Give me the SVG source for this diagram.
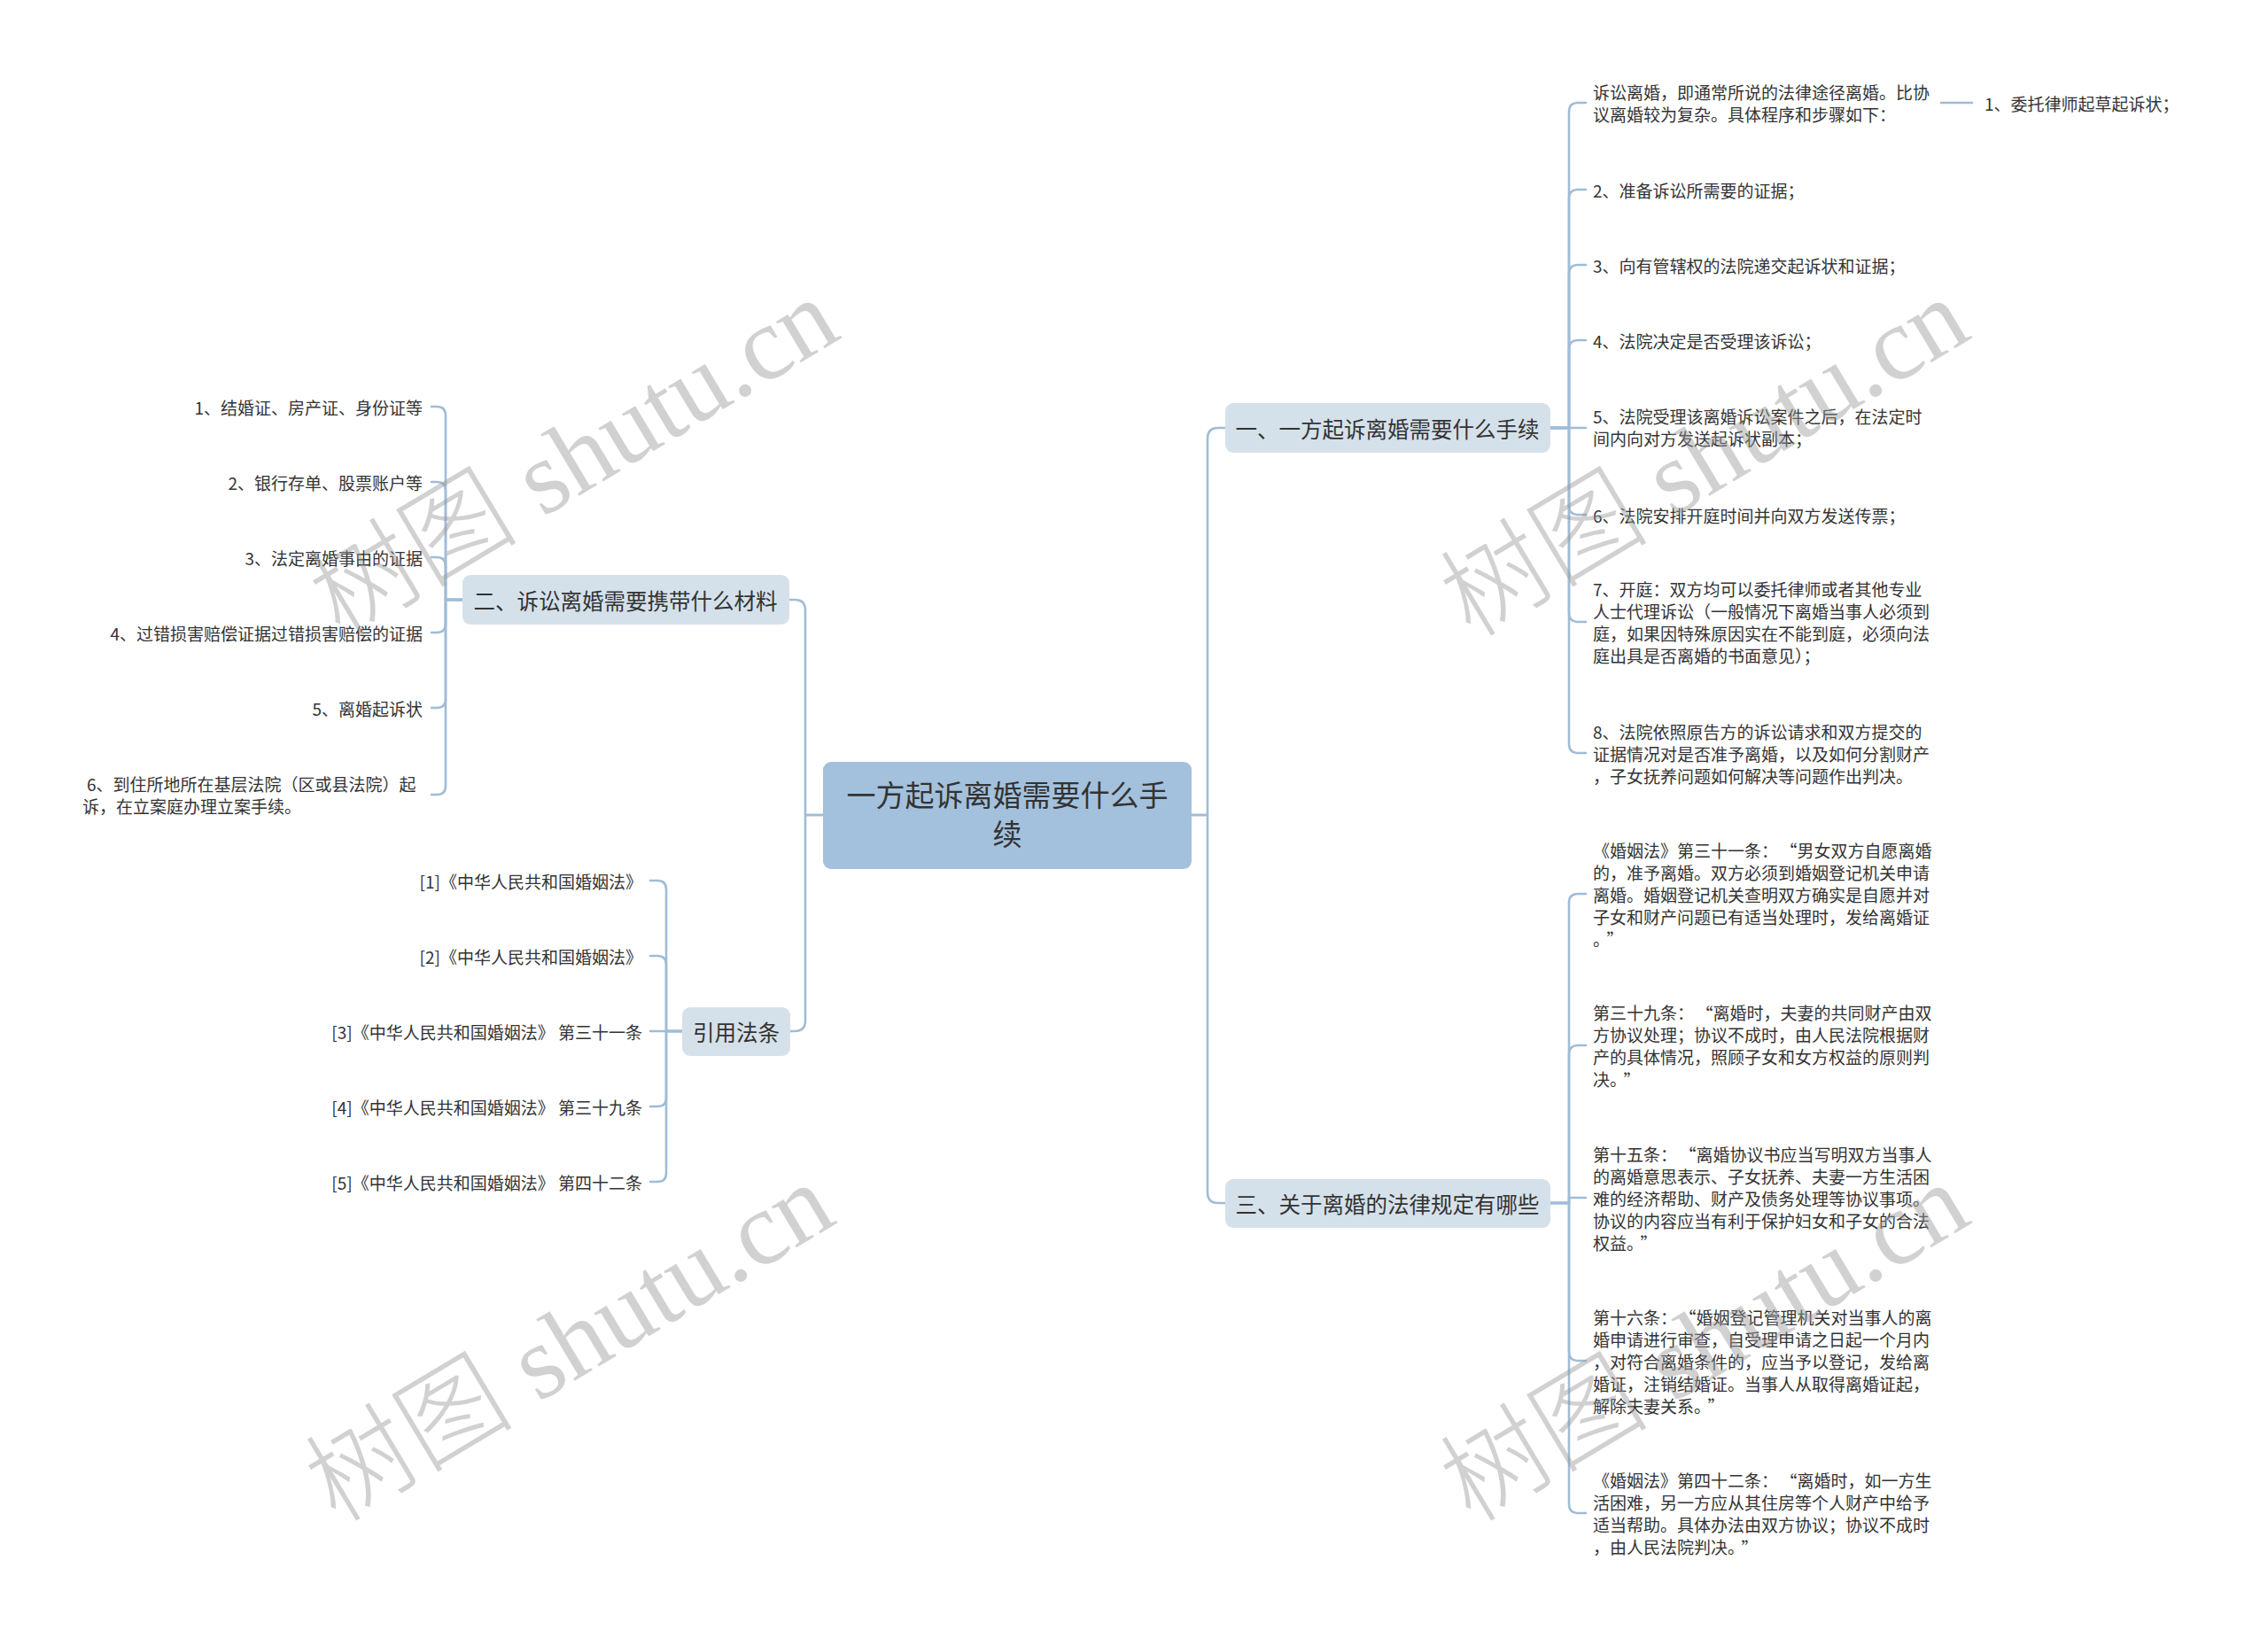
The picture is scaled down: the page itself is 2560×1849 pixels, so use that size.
<svg xmlns="http://www.w3.org/2000/svg" width="2560" height="1849" viewBox="0 0 2560 1849">
<style>
.ln{fill:none;stroke:#a0bcd6;stroke-width:2.6;stroke-linecap:round;stroke-linejoin:round}
.t{font-family:"Noto Sans CJK SC","Noto Sans",sans-serif;fill:#333;dominant-baseline:central}
.lf{font-size:19px}
.br{font-size:24.5px;text-anchor:middle}
.ct{font-size:33px;text-anchor:middle}
.wm{font-family:"Liberation Serif","Noto Sans CJK SC",serif;font-weight:300;font-size:118px;fill:#9a9a9a;fill-opacity:0.45;text-anchor:middle;dominant-baseline:central}
</style>
<rect width="2560" height="1849" fill="#fff"/>
<g id="connectors">
<path class="ln" d="M1345 920H1363V495Q1363 483 1375 483H1383"/>
<path class="ln" d="M1345 920H1363V1346Q1363 1358 1375 1358H1383"/>
<path class="ln" d="M929 920H909V689Q909 677 897 677H891"/>
<path class="ln" d="M929 920H909V1152Q909 1164 897 1164H892"/>
<path class="ln" d="M1750 483H1771V126Q1771 116 1781 116H1790"/>
<path class="ln" d="M1750 483H1771V224Q1771 214 1781 214H1790"/>
<path class="ln" d="M1750 483H1771V309Q1771 299 1781 299H1790"/>
<path class="ln" d="M1750 483H1771V394Q1771 384 1781 384H1790"/>
<path class="ln" d="M1750 483H1790"/>
<path class="ln" d="M1750 483H1771V571Q1771 581 1781 581H1790"/>
<path class="ln" d="M1750 483H1771V692Q1771 702 1781 702H1790"/>
<path class="ln" d="M1750 483H1771V840Q1771 850 1781 850H1790"/>
<path class="ln" d="M2191 116H2226"/>
<path class="ln" d="M1750 1358H1771V1019Q1771 1009 1781 1009H1790"/>
<path class="ln" d="M1750 1358H1771V1190Q1771 1180 1781 1180H1790"/>
<path class="ln" d="M1750 1358H1771V1352H1790"/>
<path class="ln" d="M1750 1358H1771V1526Q1771 1536 1781 1536H1790"/>
<path class="ln" d="M1750 1358H1771V1698Q1771 1708 1781 1708H1790"/>
<path class="ln" d="M522 677H503V469Q503 459 493 459H487"/>
<path class="ln" d="M522 677H503V554Q503 544 493 544H487"/>
<path class="ln" d="M522 677H503V639Q503 629 493 629H487"/>
<path class="ln" d="M522 677H503V704Q503 714 493 714H487"/>
<path class="ln" d="M522 677H503V789Q503 799 493 799H487"/>
<path class="ln" d="M522 677H503V887Q503 897 493 897H487"/>
<path class="ln" d="M770 1164H752V1004Q752 994 742 994H734"/>
<path class="ln" d="M770 1164H752V1089Q752 1079 742 1079H734"/>
<path class="ln" d="M770 1164H734"/>
<path class="ln" d="M770 1164H752V1239Q752 1249 742 1249H734"/>
<path class="ln" d="M770 1164H752V1324Q752 1334 742 1334H734"/>
</g>
<g id="center">
<rect x="929" y="860" width="416" height="121" rx="9" fill="#a3c1dd"/>
<text class="t ct" x="1137" y="896">一方起诉离婚需要什么手</text>
<text class="t ct" x="1137" y="940">续</text>
</g>
<g id="b1">
<rect x="1383" y="455" width="367" height="56" rx="9" fill="#d5e1ea"/>
<text class="t br" x="1566" y="483">一、一方起诉离婚需要什么手续</text>
</g>
<g id="b3">
<rect x="1383" y="1331" width="367" height="55" rx="9" fill="#d5e1ea"/>
<text class="t br" x="1566" y="1358">三、关于离婚的法律规定有哪些</text>
</g>
<g id="b2">
<rect x="522" y="649" width="369" height="56" rx="9" fill="#d5e1ea"/>
<text class="t br" x="706" y="677">二、诉讼离婚需要携带什么材料</text>
</g>
<g id="b4">
<rect x="770" y="1137" width="122" height="55" rx="9" fill="#d5e1ea"/>
<text class="t br" x="831" y="1164">引用法条</text>
</g>
<g id="l1"><text class="t lf" x="1798" y="103.5">诉讼离婚，即通常所说的法律途径离婚。比协</text><text class="t lf" x="1798" y="128.5">议离婚较为复杂。具体程序和步骤如下：</text></g>
<g id="l1a"><text class="t lf" x="2240" y="116">1、委托律师起草起诉状；</text></g>
<g id="l2"><text class="t lf" x="1798" y="214">2、准备诉讼所需要的证据；</text></g>
<g id="l3"><text class="t lf" x="1798" y="299">3、向有管辖权的法院递交起诉状和证据；</text></g>
<g id="l4"><text class="t lf" x="1798" y="384">4、法院决定是否受理该诉讼；</text></g>
<g id="l5"><text class="t lf" x="1798" y="469.5">5、法院受理该离婚诉讼案件之后，在法定时</text><text class="t lf" x="1798" y="494.5">间内向对方发送起诉状副本；</text></g>
<g id="l6"><text class="t lf" x="1798" y="581">6、法院安排开庭时间并向双方发送传票；</text></g>
<g id="l7"><text class="t lf" x="1798" y="664.5">7、开庭：双方均可以委托律师或者其他专业</text><text class="t lf" x="1798" y="689.5">人士代理诉讼（一般情况下离婚当事人必须到</text><text class="t lf" x="1798" y="714.5">庭，如果因特殊原因实在不能到庭，必须向法</text><text class="t lf" x="1798" y="739.5">庭出具是否离婚的书面意见）；</text></g>
<g id="l8"><text class="t lf" x="1798" y="825">8、法院依照原告方的诉讼请求和双方提交的</text><text class="t lf" x="1798" y="850">证据情况对是否准予离婚，以及如何分割财产</text><text class="t lf" x="1798" y="875">，子女抚养问题如何解决等问题作出判决。</text></g>
<g id="m1"><text class="t lf" x="1798" y="959">《婚姻法》第三十一条：<tspan dx="12">“</tspan>男女双方自愿离婚</text><text class="t lf" x="1798" y="984">的，准予离婚。双方必须到婚姻登记机关申请</text><text class="t lf" x="1798" y="1009">离婚。婚姻登记机关查明双方确实是自愿并对</text><text class="t lf" x="1798" y="1034">子女和财产问题已有适当处理时，发给离婚证</text><text class="t lf" x="1798" y="1059">。<tspan dx="6">”</tspan></text></g>
<g id="m2"><text class="t lf" x="1798" y="1142.5">第三十九条：<tspan dx="12">“</tspan>离婚时，夫妻的共同财产由双</text><text class="t lf" x="1798" y="1167.5">方协议处理；协议不成时，由人民法院根据财</text><text class="t lf" x="1798" y="1192.5">产的具体情况，照顾子女和女方权益的原则判</text><text class="t lf" x="1798" y="1217.5">决。<tspan dx="6">”</tspan></text></g>
<g id="m3"><text class="t lf" x="1798" y="1302">第十五条：<tspan dx="12">“</tspan>离婚协议书应当写明双方当事人</text><text class="t lf" x="1798" y="1327">的离婚意思表示、子女抚养、夫妻一方生活困</text><text class="t lf" x="1798" y="1352">难的经济帮助、财产及债务处理等协议事项。</text><text class="t lf" x="1798" y="1377">协议的内容应当有利于保护妇女和子女的合法</text><text class="t lf" x="1798" y="1402">权益。<tspan dx="6">”</tspan></text></g>
<g id="m4"><text class="t lf" x="1798" y="1486">第十六条：<tspan dx="12">“</tspan>婚姻登记管理机关对当事人的离</text><text class="t lf" x="1798" y="1511">婚申请进行审查，自受理申请之日起一个月内</text><text class="t lf" x="1798" y="1536">，对符合离婚条件的，应当予以登记，发给离</text><text class="t lf" x="1798" y="1561">婚证，注销结婚证。当事人从取得离婚证起，</text><text class="t lf" x="1798" y="1586">解除夫妻关系。<tspan dx="6">”</tspan></text></g>
<g id="m5"><text class="t lf" x="1798" y="1670.5">《婚姻法》第四十二条：<tspan dx="12">“</tspan>离婚时，如一方生</text><text class="t lf" x="1798" y="1695.5">活困难，另一方应从其住房等个人财产中给予</text><text class="t lf" x="1798" y="1720.5">适当帮助。具体办法由双方协议；协议不成时</text><text class="t lf" x="1798" y="1745.5">，由人民法院判决。<tspan dx="6">”</tspan></text></g>
<g id="n1"><text class="t lf" x="477" y="459" text-anchor="end">1、结婚证、房产证、身份证等</text></g>
<g id="n2"><text class="t lf" x="477" y="544" text-anchor="end">2、银行存单、股票账户等</text></g>
<g id="n3"><text class="t lf" x="477" y="629" text-anchor="end">3、法定离婚事由的证据</text></g>
<g id="n4"><text class="t lf" x="477" y="714" text-anchor="end">4、过错损害赔偿证据过错损害赔偿的证据</text></g>
<g id="n5"><text class="t lf" x="477" y="799" text-anchor="end">5、离婚起诉状</text></g>
<g id="n6"><text class="t lf" x="98" y="884.5">6、到住所地所在基层法院（区或县法院）起</text><text class="t lf" x="93" y="909.5">诉，在立案庭办理立案手续。</text></g>
<g id="r1"><text class="t lf" x="725" y="994" text-anchor="end">[1]《中华人民共和国婚姻法》</text></g>
<g id="r2"><text class="t lf" x="725" y="1079" text-anchor="end">[2]《中华人民共和国婚姻法》</text></g>
<g id="r3"><text class="t lf" x="725" y="1164" text-anchor="end">[3]《中华人民共和国婚姻法》 第三十一条</text></g>
<g id="r4"><text class="t lf" x="725" y="1249" text-anchor="end">[4]《中华人民共和国婚姻法》 第三十九条</text></g>
<g id="r5"><text class="t lf" x="725" y="1334" text-anchor="end">[5]《中华人民共和国婚姻法》 第四十二条</text></g>
<g id="watermarks">
<text class="wm" transform="translate(648 517) rotate(-31)">树图 shutu.cn</text>
<text class="wm" transform="translate(643 1516) rotate(-31)">树图 shutu.cn</text>
<text class="wm" transform="translate(1924 517) rotate(-31)">树图 shutu.cn</text>
<text class="wm" transform="translate(1924 1516) rotate(-31)">树图 shutu.cn</text>
</g>
</svg>
